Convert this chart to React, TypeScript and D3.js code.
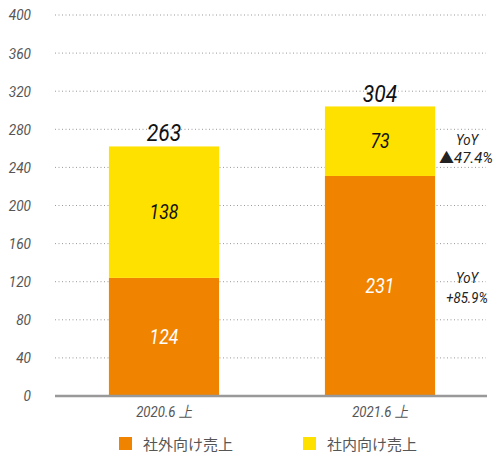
import React from "react";
import * as d3 from "d3";

const categories = ["2020.6 上", "2021.6 上"];
const external = [124, 231];
const internal = [138, 73];
const totals = [263, 304];
const yTicks = [0, 40, 80, 120, 160, 200, 240, 280, 320, 360, 400];
const seriesNames = ["社外向け売上", "社内向け売上"];
const yoyInternal = ["YoY", "47.4%"];
const yoyExternal = ["YoY", "+85.9%"];

const ORANGE = "#F08300";
const YELLOW = "#FFE100";
const FONT = "Roboto, 'Noto Sans', sans-serif";
const SX = 0.88;

function CText(props: any) {
  const { x, y, children, anchor = "middle", size, fill, dy } = props;
  return (
    <text transform={`translate(${x},${y}) scale(${SX},1)`} dy={dy} textAnchor={anchor}
      fontFamily={FONT} fontStyle="italic" fontSize={size} fill={fill}>
      {children}
    </text>
  );
}

export default function App() {
  const W = 496, H = 453;
  const left = 56, right = 488, top = 15, bottom = 396;
  const x = d3.scaleBand<string>().domain(categories).range([left, right]).paddingInner(0.49).paddingOuter(0.245);
  const y = d3.scaleLinear().domain([0, 400]).range([bottom, top]);
  const stack = d3.stack<any>().keys(["external", "internal"])(
    categories.map((c, i) => ({ cat: c, external: external[i], internal: internal[i] }))
  );
  const colors = [ORANGE, YELLOW];
  const inner = [external, internal];
  const innerColor = ["#fff", "#111"];
  const yoyX = 467;
  return (
    <svg width={W} height={H} style={{ position: "absolute", left: 0, top: 0 }}>
      {yTicks.map((t) => (
        <g key={t}>
          {t > 0 && (
            <line x1={left - 1} x2={486} y1={y(t)} y2={y(t)} stroke="#999" strokeWidth={1} strokeDasharray="1,2.5" />
          )}
          <CText x={31} y={y(t)} dy="0.35em" anchor="end" size={15.5} fill="#555">{t}</CText>
        </g>
      ))}
      {stack.map((s, si) =>
        s.map((d, i) => (
          <rect key={si + "-" + i} x={x(categories[i])} width={x.bandwidth()} y={y(d[1])} height={y(d[0]) - y(d[1])} fill={colors[si]} />
        ))
      )}
      {stack.map((s, si) =>
        s.map((d, i) => (
          <CText key={"l" + si + "-" + i} x={x(categories[i])! + x.bandwidth() / 2} y={(y(d[0]) + y(d[1])) / 2} dy="0.35em"
            size={20} fill={innerColor[si]}>
            {inner[si][i]}
          </CText>
        ))
      )}
      {totals.map((t, i) => (
        <CText key={"t" + i} x={x(categories[i])! + x.bandwidth() / 2} y={y(t) - 4} size={24} fill="#111">
          {t}
        </CText>
      ))}
      <line x1={left - 1} x2={487} y1={bottom} y2={bottom} stroke="#999" strokeWidth={2.5} />
      {categories.map((c) => (
        <CText key={c} x={x(c)! + x.bandwidth() / 2} y={417} size={15} fill="#555">{c}</CText>
      ))}
      <CText x={yoyX} y={145} size={15} fill="#222">{yoyInternal[0]}</CText>
      <text x={yoyX + 26} y={163} textAnchor="end" fill="#222">
        <tspan fontFamily="'Noto Sans CJK JP', sans-serif" fontSize={15}>▲</tspan>
        <tspan fontFamily={FONT} fontStyle="italic" fontSize={15}>{yoyInternal[1]}</tspan>
      </text>
      {yoyExternal.map((s, i) => (
        <CText key={"ye" + i} x={yoyX} y={283 + i * 20} size={15} fill="#222">{s}</CText>
      ))}
      {seriesNames.map((n, i) => {
        const lx = [119, 303][i];
        return (
          <g key={n}>
            <rect x={lx} y={437} width={13} height={13} fill={colors[i]} />
            <text x={lx + 24} y={449.5} fontFamily="'Noto Sans CJK JP', sans-serif" fontSize={15} fill="#555">
              {n}
            </text>
          </g>
        );
      })}
    </svg>
  );
}
